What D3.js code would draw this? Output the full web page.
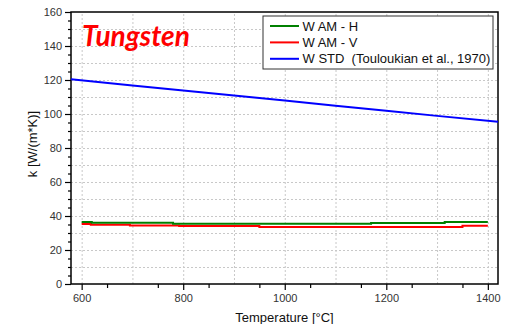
<!DOCTYPE html>
<html>
<head>
<meta charset="utf-8">
<script src="https://cdn.jsdelivr.net/npm/d3@7"></script>
<style>
  body { margin: 0; background: #fff; }
  svg { display: block; font-family: "Liberation Sans", Arial, sans-serif; }
  .grid line { stroke: #c8c8c8; stroke-dasharray: 2,2; }
  .grid path { display: none; }
  .tick text { fill: #333; font-size: 11px; }
</style>
</head>
<body>
<svg width="506" height="324"></svg>
<script>
// step data (temperature °C, k W/(m*K))
const tempH = [600, 620, 780, 1170, 1315, 1400];
const kH    = [36.5, 36.1, 35.5, 35.9, 36.4, 36.4];
const tempV = [600, 618, 695, 792, 950, 1350, 1400];
const kV    = [35.3, 34.8, 34.4, 34.1, 33.5, 34.2, 34.2];
const tempStd = [579, 700, 800, 900, 1000, 1100, 1200, 1300, 1420];
const kStd    = [120.4, 116.8, 113.8, 110.9, 107.9, 104.9, 101.9, 98.9, 95.5];

const seriesNames = ["W AM - H", "W AM - V", "W STD  (Touloukian et al., 1970)"];
const seriesColors = ["#008000", "#ff0000", "#0000ff"];
const xTicks = [600, 800, 1000, 1200, 1400];
const yTicks = [0, 20, 40, 60, 80, 100, 120, 140, 160];

const svg = d3.select("svg"),
      margin = {top: 12, right: 8, bottom: 40, left: 71},
      width = +svg.attr("width") - margin.left - margin.right,
      height = +svg.attr("height") - margin.top - margin.bottom;

const g = svg.append("g").attr("transform", `translate(${margin.left},${margin.top})`);

const x = d3.scaleLinear().domain([579, 1420]).range([0, width]);
const y = d3.scaleLinear().domain([0, 160]).range([height, 0]);

// grid
g.append("g").attr("class", "grid")
  .attr("transform", `translate(0,${height})`)
  .call(d3.axisBottom(x).tickValues(d3.range(600, 1401, 100)).tickSize(-height).tickFormat(""));
g.append("g").attr("class", "grid")
  .call(d3.axisLeft(y).tickValues(d3.range(10, 160, 10)).tickSize(-width).tickFormat(""));

// frame
g.append("rect").attr("width", width).attr("height", height)
  .attr("fill", "none").attr("stroke", "#000").attr("stroke-width", 1.5);

// minor ticks
g.append("g").attr("transform", `translate(0,${height})`)
  .call(d3.axisBottom(x).tickValues(d3.range(650, 1401, 100)).tickSize(4).tickFormat(""))
  .call(a => a.select(".domain").remove())
  .selectAll("line").attr("stroke-width", 1.2);
g.append("g")
  .call(d3.axisLeft(y).tickValues(d3.range(5, 160, 10).concat(d3.range(10, 160, 20))).tickSize(3).tickFormat(""))
  .call(a => a.select(".domain").remove())
  .selectAll("line").attr("stroke-width", 1.2);

// major axes
g.append("g").attr("transform", `translate(0,${height})`)
  .call(d3.axisBottom(x).tickValues(xTicks).tickSize(6).tickPadding(4).tickFormat(d3.format("d")))
  .call(a => a.select(".domain").remove())
  .selectAll("line").attr("stroke-width", 1.2);
g.append("g")
  .call(d3.axisLeft(y).tickValues(yTicks).tickSize(6).tickPadding(3))
  .call(a => a.select(".domain").remove())
  .selectAll("line").attr("stroke-width", 1.2);

// clip
g.append("clipPath").attr("id", "clip").append("rect").attr("width", width).attr("height", height);

const stepLine = d3.line().x(d => x(d[0])).y(d => y(d[1])).curve(d3.curveStepAfter);
const straight = d3.line().x(d => x(d[0])).y(d => y(d[1]));

const lines = g.append("g").attr("clip-path", "url(#clip)");
lines.append("path").datum(d3.zip(tempStd, kStd))
  .attr("fill", "none").attr("stroke", seriesColors[2]).attr("stroke-width", 2).attr("d", straight);
lines.append("path").datum(d3.zip(tempV, kV))
  .attr("fill", "none").attr("stroke", seriesColors[1]).attr("stroke-width", 2).attr("d", stepLine);
lines.append("path").datum(d3.zip(tempH, kH))
  .attr("fill", "none").attr("stroke", seriesColors[0]).attr("stroke-width", 2).attr("d", stepLine);

// title
g.append("text")
  .attr("x", 11).attr("y", 34)
  .attr("fill", "#ff0000")
  .style("font-family", "Lato, 'Open Sans', sans-serif")
  .style("font-size", "28px").style("font-weight", "bold").style("font-style", "italic")
  .text("Tungsten");

// legend
const leg = g.append("g").attr("transform", `translate(${263 - margin.left},${16 - margin.top})`);
leg.append("rect").attr("width", 230).attr("height", 53)
  .attr("fill", "#fff").attr("stroke", "#333").attr("stroke-width", 1);
seriesNames.forEach((name, i) => {
  const yy = 10 + i * 16.4;
  leg.append("line").attr("x1", 7).attr("x2", 36).attr("y1", yy).attr("y2", yy)
    .attr("stroke", seriesColors[i]).attr("stroke-width", 2);
  leg.append("text").attr("x", 39.5).attr("y", yy + 4.5)
    .style("font-size", "13px").attr("fill", "#111").attr("xml:space", "preserve")
    .style("white-space", "pre")
    .text(name);
});

// axis titles
svg.append("text")
  .attr("x", margin.left + width / 2).attr("y", 322)
  .attr("text-anchor", "middle").style("font-size", "13px").attr("fill", "#111")
  .text("Temperature [°C]");
svg.append("text")
  .attr("transform", `translate(37,${margin.top + height / 2 - 4}) rotate(-90)`)
  .attr("text-anchor", "middle").style("font-size", "13px").attr("fill", "#111")
  .text("k [W/(m*K)]");
</script>
</body>
</html>
